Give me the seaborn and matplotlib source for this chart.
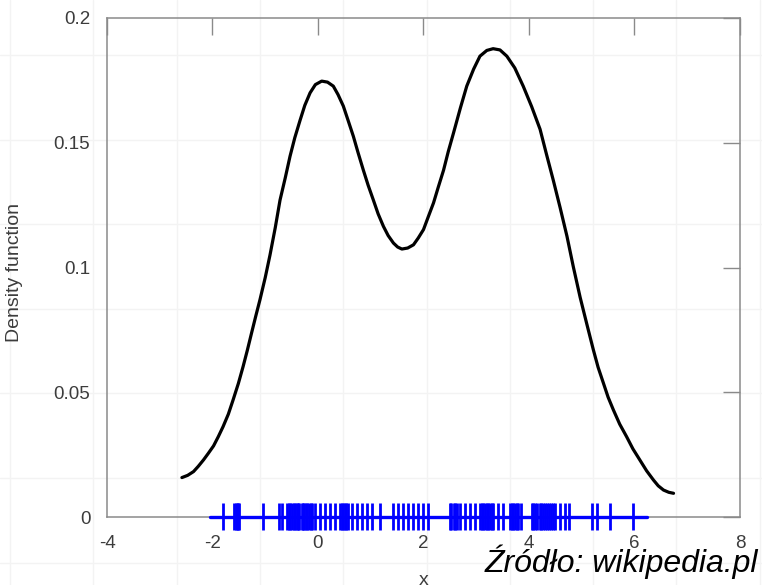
import matplotlib
matplotlib.use("Agg")
import matplotlib.pyplot as plt
import numpy as np
import seaborn as sns

# density curve
curve_x = [-2.58, -2.47, -2.36, -2.27, -2.17, -2.08, -1.98, -1.89, -1.80, -1.70,
           -1.61, -1.51, -1.42, -1.34, -1.26, -1.18, -1.10, -1.00, -0.91, -0.81,
           -0.72, -0.62, -0.53, -0.44, -0.34, -0.25, -0.15, -0.05, 0.07, 0.18,
           0.29, 0.38, 0.48, 0.57, 0.67, 0.76, 0.86, 0.95, 1.05, 1.14,
           1.24, 1.33, 1.43, 1.51, 1.59, 1.70, 1.81, 1.90, 2.00, 2.09,
           2.19, 2.28, 2.38, 2.47, 2.57, 2.70, 2.82, 2.95, 3.07, 3.20,
           3.32, 3.45, 3.58, 3.73, 3.89, 4.05, 4.21, 4.33, 4.46, 4.59,
           4.72, 4.84, 4.97, 5.10, 5.22, 5.31, 5.41, 5.50, 5.60, 5.72,
           5.85, 5.97, 6.10, 6.23, 6.36, 6.45, 6.55, 6.65, 6.74]
curve_y = [0.0158, 0.0167, 0.0182, 0.0203, 0.0229, 0.0255, 0.0285, 0.0322, 0.0362, 0.0412,
           0.0469, 0.0535, 0.0603, 0.0668, 0.0737, 0.0805, 0.0871, 0.0960, 0.1050, 0.1160,
           0.1270, 0.1360, 0.1446, 0.1520, 0.1590, 0.1650, 0.1700, 0.1733, 0.1747, 0.1743,
           0.1727, 0.1693, 0.1647, 0.1590, 0.1526, 0.1460, 0.1390, 0.1330, 0.1270, 0.1215,
           0.1165, 0.1128, 0.1098, 0.1082, 0.1074, 0.1078, 0.1091, 0.1118, 0.1152, 0.1203,
           0.1259, 0.1322, 0.1390, 0.1465, 0.1540, 0.1640, 0.1727, 0.1795, 0.1847, 0.1870,
           0.1877, 0.1872, 0.1847, 0.1800, 0.1727, 0.1645, 0.1554, 0.1455, 0.1350, 0.1240,
           0.1125, 0.1003, 0.0880, 0.0770, 0.0670, 0.0600, 0.0537, 0.0480, 0.0429, 0.0372,
           0.0322, 0.0273, 0.0229, 0.0185, 0.0148, 0.0125, 0.0108, 0.0099, 0.0095]

# sample positions (rug)
samples = [-1.81, -1.59, -1.56, -1.54, -1.51, -1.49, -1.05, -0.73, -0.69,
           -0.58, -0.55, -0.53, -0.49, -0.46, -0.44, -0.40, -0.38, -0.36, -0.31, -0.29,
           -0.27, -0.22, -0.20, -0.18, -0.14, -0.12,
           -0.06, 0.04, 0.13, 0.23, 0.32, 0.42, 0.45, 0.48, 0.51, 0.54, 0.57, 0.64, 0.73,
           0.83, 0.92, 1.02, 1.18, 1.43, 1.52, 1.62, 1.71, 1.81, 1.90, 2.00, 2.09,
           2.50, 2.53, 2.57, 2.60, 2.63, 2.69, 2.79, 2.88, 2.98, 3.07, 3.10, 3.13, 3.17,
           3.20, 3.23, 3.26, 3.29, 3.32, 3.42, 3.51, 3.64, 3.67, 3.70, 3.73, 3.77, 3.80,
           3.84, 4.05, 4.08, 4.11, 4.15, 4.20, 4.23, 4.27, 4.31, 4.34, 4.38,
           4.41, 4.45, 4.49, 4.59, 4.68, 4.75, 5.19, 5.28, 5.54, 5.98]
rug_span = [-2.05, 6.23]

xticks = [-4, -2, 0, 2, 4, 6, 8]
yticks = [0, 0.05, 0.1, 0.15, 0.2]
ytick_labels = ["0", "0.05", "0.1", "0.15", "0.2"]

sns.set_style("white")
plt.rcParams["font.family"] = ["Liberation Sans", "DejaVu Sans"]
plt.rcParams["axes.unicode_minus"] = False

fig = plt.figure(figsize=(7.62, 5.85), dpi=100)

# faint background grid of the screenshot
for gx in np.arange(10, 762, 83.3):
    fig.add_artist(plt.Line2D([gx / 762, gx / 762], [0, 1], color="#f3f3f3", lw=1, zorder=0))
for gy in np.arange(55, 585, 84.6):
    fig.add_artist(plt.Line2D([0, 1], [1 - gy / 585, 1 - gy / 585], color="#f3f3f3", lw=1, zorder=0))

ax = fig.add_axes([107 / 762, 1 - 517 / 585, 633 / 762, 499 / 585])
ax.patch.set_alpha(0)

sns.lineplot(x=curve_x, y=curve_y, sort=False, color="black", lw=2.3, ax=ax)

# rug: base line plus ticks above and below zero
sns.lineplot(x=rug_span, y=[0, 0], color="#0000ff", linewidth=2.4, clip_on=False,
             zorder=3, ax=ax)
sns.rugplot(x=samples, height=0.028, color="#0000ff", linewidth=2.0, clip_on=False,
            zorder=3, expand_margins=False, ax=ax)
sns.rugplot(x=samples, height=-0.026, color="#0000ff", linewidth=2.0, clip_on=False,
            zorder=3, expand_margins=False, ax=ax)

ax.set_xlim(-4, 8)
ax.set_ylim(0, 0.2)
ax.set_xticks(xticks)
ax.set_xticklabels([str(t) for t in xticks])
ax.set_yticks(yticks)
ax.set_yticklabels(ytick_labels)

for s in ax.spines.values():
    s.set_color("#8a8a8a")
    s.set_linewidth(1.1)
ax.tick_params(direction="in", length=12.5, width=1, color="#8a8a8a",
               top=True, right=True, labelsize=13.5, labelcolor="#3c3c3c", pad=12)
ax.tick_params(axis="x", pad=13)

ax.set_ylabel("Density function", fontsize=14, color="#3c3c3c")
ax.yaxis.set_label_coords(-0.133, 0.49)
ax.set_xlabel("x", fontsize=14, color="#3c3c3c")
ax.xaxis.set_label_coords(0.5, -0.128)
ax.xaxis.label.set_va("center")

fig.text(485 / 762, 1 - 572 / 585, "Źródło: wikipedia.pl", fontsize=23,
         style="italic", color="black", ha="left", va="baseline")

fig.savefig("out.png", dpi=100)
